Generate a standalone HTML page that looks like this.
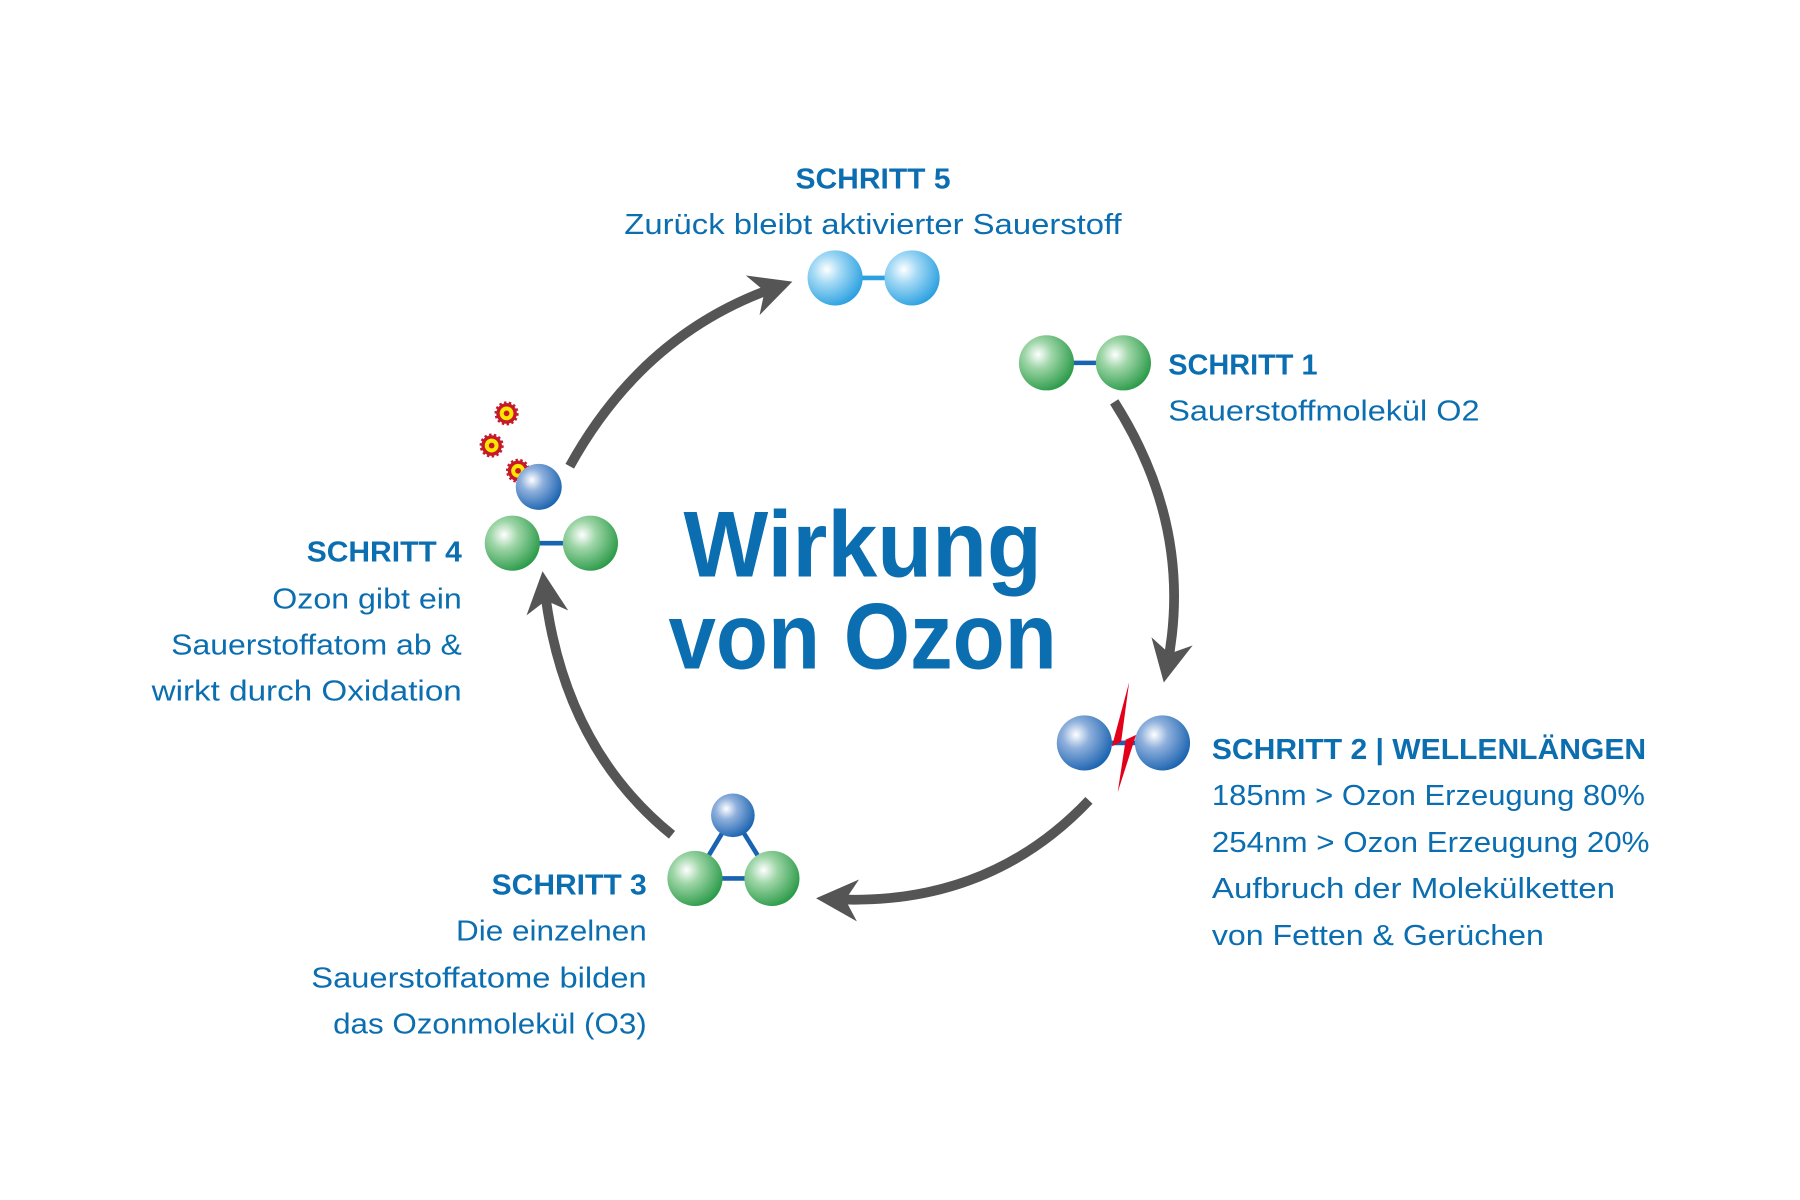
<!DOCTYPE html>
<html><head><meta charset="utf-8"><style>
html,body{margin:0;padding:0;background:#fff;width:1800px;height:1200px;overflow:hidden}
svg{display:block}
text{font-family:"Liberation Sans",sans-serif;fill:#0b6eb0}
.h{font-weight:bold;font-size:25px}
.t{font-size:25px}
</style></head><body>
<svg width="1800" height="1200" viewBox="0 0 1567 1045" preserveAspectRatio="none" xmlns="http://www.w3.org/2000/svg">
<defs>
<radialGradient id="gG" cx="35%" cy="35%" r="70%"><stop offset="0" stop-color="#ffffff"/><stop offset="0.35" stop-color="#9fd6a8"/><stop offset="1" stop-color="#2a9a48"/></radialGradient>
<radialGradient id="gB" cx="35%" cy="35%" r="70%"><stop offset="0" stop-color="#ffffff"/><stop offset="0.35" stop-color="#8fb0dc"/><stop offset="1" stop-color="#1a63b0"/></radialGradient>
<radialGradient id="gL" cx="35%" cy="35%" r="70%"><stop offset="0" stop-color="#ffffff"/><stop offset="0.35" stop-color="#a5daf5"/><stop offset="1" stop-color="#2aa0e0"/></radialGradient>
<marker id="ar" viewBox="0 0 10 10" refX="6" refY="5" markerWidth="4.3" markerHeight="4.3" orient="auto" markerUnits="strokeWidth">
<path d="M0,0 L10,5 L0,10 L3,5 Z" fill="#555"/></marker>
<g id="gear"><circle r="9" fill="#c41a2a" stroke="#c41a2a" stroke-width="3" stroke-dasharray="2 2"/><circle r="6" fill="#ffe600"/><circle r="2.5" fill="#c41a2a"/></g>
</defs>
<g fill="none" stroke="#555" stroke-width="8.5">
<path d="M970,350 Q1040,460 1016,580" marker-end="url(#ar)"/>
<path d="M948,697 Q860,790 725,783" marker-end="url(#ar)"/>
<path d="M585,727 Q490,650 474,512" marker-end="url(#ar)"/>
<path d="M496,406 Q560,290 676,250" marker-end="url(#ar)"/>
</g>
<text x="751" y="502" text-anchor="middle" style="font-weight:bold;font-size:82px" textLength="312" lengthAdjust="spacingAndGlyphs">Wirkung</text>
<text x="751" y="582" text-anchor="middle" style="font-weight:bold;font-size:82px" textLength="338" lengthAdjust="spacingAndGlyphs">von Ozon</text>
<text class="h" x="760" y="164" text-anchor="middle" textLength="135" lengthAdjust="spacingAndGlyphs">SCHRITT 5</text>
<text class="t" x="760" y="204" text-anchor="middle" textLength="433" lengthAdjust="spacingAndGlyphs">Zurück bleibt aktivierter Sauerstoff</text>
<line x1="727" y1="242" x2="794" y2="242" stroke="#2aa0e0" stroke-width="4"/>
<circle cx="727" cy="242" r="24" fill="url(#gL)"/><circle cx="794" cy="242" r="24" fill="url(#gL)"/>
<line x1="911" y1="316" x2="978" y2="316" stroke="#1a63b0" stroke-width="4"/>
<circle cx="911" cy="316" r="24" fill="url(#gG)"/><circle cx="978" cy="316" r="24" fill="url(#gG)"/>
<text class="h" x="1017" y="326" textLength="130" lengthAdjust="spacingAndGlyphs">SCHRITT 1</text>
<text class="t" x="1017" y="366" textLength="271" lengthAdjust="spacingAndGlyphs">Sauerstoffmolekül O2</text>
<line x1="944" y1="647" x2="1012" y2="647" stroke="#1a63b0" stroke-width="4"/>
<circle cx="944" cy="647" r="24" fill="url(#gB)"/><circle cx="1012" cy="647" r="24" fill="url(#gB)"/>
<path d="M983,594 L976,646 L989,640 L973,690 L980,644 L968,650 Z" fill="#e3001b"/>
<text class="h" x="1055" y="661" textLength="378" lengthAdjust="spacingAndGlyphs">SCHRITT 2 | WELLENLÄNGEN</text>
<text class="t" x="1055" y="701" textLength="377" lengthAdjust="spacingAndGlyphs">185nm &gt; Ozon Erzeugung 80%</text>
<text class="t" x="1055" y="742" textLength="381" lengthAdjust="spacingAndGlyphs">254nm &gt; Ozon Erzeugung 20%</text>
<text class="t" x="1055" y="782" textLength="351" lengthAdjust="spacingAndGlyphs">Aufbruch der Molekülketten</text>
<text class="t" x="1055" y="823" textLength="289" lengthAdjust="spacingAndGlyphs">von Fetten &amp; Gerüchen</text>
<g stroke="#1a63b0" stroke-width="4"><line x1="638" y1="710" x2="605" y2="765"/><line x1="638" y1="710" x2="672" y2="765"/><line x1="605" y1="765" x2="672" y2="765"/></g>
<circle cx="638" cy="710" r="19" fill="url(#gB)"/>
<circle cx="605" cy="765" r="24" fill="url(#gG)"/><circle cx="672" cy="765" r="24" fill="url(#gG)"/>
<text class="h" x="563" y="779" text-anchor="end" textLength="135" lengthAdjust="spacingAndGlyphs">SCHRITT 3</text>
<text class="t" x="563" y="819" text-anchor="end" textLength="166" lengthAdjust="spacingAndGlyphs">Die einzelnen</text>
<text class="t" x="563" y="860" text-anchor="end" textLength="292" lengthAdjust="spacingAndGlyphs">Sauerstoffatome bilden</text>
<text class="t" x="563" y="900" text-anchor="end" textLength="273" lengthAdjust="spacingAndGlyphs">das Ozonmolekül (O3)</text>
<line x1="446" y1="473" x2="514" y2="473" stroke="#1a63b0" stroke-width="4"/>
<circle cx="446" cy="473" r="24" fill="url(#gG)"/><circle cx="514" cy="473" r="24" fill="url(#gG)"/>
<use href="#gear" x="441" y="360"/><use href="#gear" x="428" y="388"/><use href="#gear" x="451" y="410"/>
<circle cx="469" cy="424" r="20" fill="url(#gB)"/>
<text class="h" x="402" y="489" text-anchor="end" textLength="135" lengthAdjust="spacingAndGlyphs">SCHRITT 4</text>
<text class="t" x="402" y="530" text-anchor="end" textLength="165" lengthAdjust="spacingAndGlyphs">Ozon gibt ein</text>
<text class="t" x="402" y="570" text-anchor="end" textLength="253" lengthAdjust="spacingAndGlyphs">Sauerstoffatom ab &amp;</text>
<text class="t" x="402" y="610" text-anchor="end" textLength="270" lengthAdjust="spacingAndGlyphs">wirkt durch Oxidation</text>
</svg>
</body></html>
